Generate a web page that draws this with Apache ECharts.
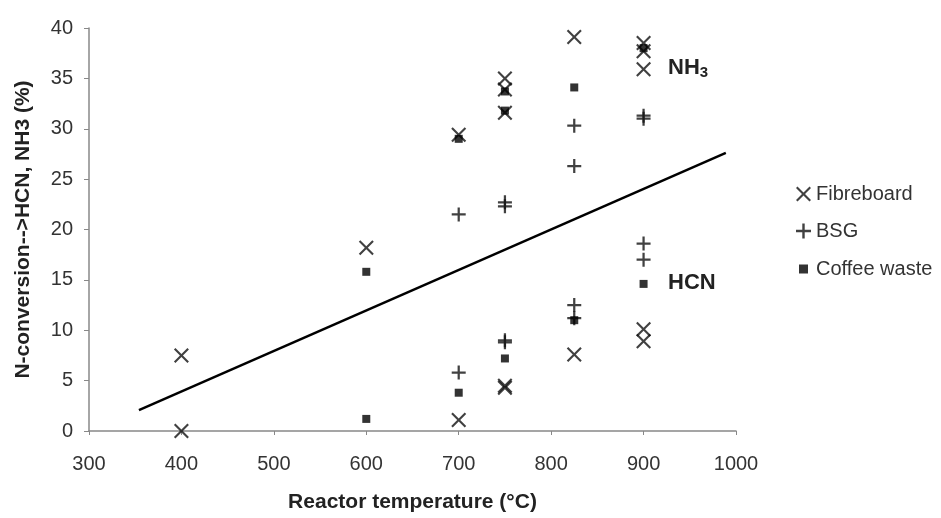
<!DOCTYPE html>
<html>
<head>
<meta charset="utf-8">
<script src="https://cdn.jsdelivr.net/npm/echarts@6/dist/echarts.min.js"></script>
<style>html,body{margin:0;padding:0;background:#fff;}#c{width:941px;height:518px;}</style>
</head>
<body>
<div id="c"></div>
<script>
// ---- data ----
const xTicks = [300, 400, 500, 600, 700, 800, 900, 1000];
const yTicks = [0, 5, 10, 15, 20, 25, 30, 35, 40];

const fibTemp = [400, 400, 600, 700, 700, 750, 750, 750, 750, 750, 825, 825, 900, 900, 900, 900, 900];
const fibVal  = [7.5, 0.0, 18.2, 29.4, 1.1, 35.0, 33.9, 31.6, 4.3, 4.5, 39.1, 7.6, 38.5, 37.7, 35.9, 10.1, 8.9];

const bsgTemp = [700, 700, 750, 750, 750, 750, 825, 825, 825, 825, 900, 900, 900, 900];
const bsgVal  = [21.5, 5.8, 22.7, 22.3, 9.0, 8.8, 30.3, 26.3, 12.5, 11.2, 31.3, 31.0, 18.6, 17.0];

const cofTemp = [600, 600, 700, 700, 750, 750, 750, 825, 825, 900, 900];
const cofVal  = [15.8, 1.2, 29.0, 3.8, 33.7, 31.8, 7.2, 34.1, 11.0, 38.0, 14.6];

const trendTemp = [354, 989];
const trendVal  = [2.07, 27.6];

const seriesNames = ['Fibreboard', 'BSG', 'Coffee waste'];
// ---------------

const zip = (a, b) => a.map((v, i) => [v, b[i]]);
const FONT = "'Liberation Sans', Arial, sans-serif";
const X_PATH = 'path://M0,1 L1,0 L5,4 L9,0 L10,1 L6,5 L10,9 L9,10 L5,6 L1,10 L0,9 L4,5 Z';
const PLUS_PATH = 'path://M4.2,0 H5.8 V4.2 H10 V5.8 H5.8 V10 H4.2 V5.8 H0 V4.2 H4.2 Z';

const chart = echarts.init(document.getElementById('c'), null, {renderer: 'canvas'});
const legendBase = {
  orient: 'vertical', left: 791, itemWidth: 15, itemHeight: 15, itemGap: 5,
  textStyle: {fontFamily: FONT, fontSize: 20, color: '#333'},
  selectedMode: false
};
chart.setOption({
  animation: false,
  backgroundColor: '#fff',
  grid: {left: 89, right: 205, top: 28, bottom: 84},
  legend: [
    Object.assign({}, legendBase, {top: 179, data: [seriesNames[0]]}),
    Object.assign({}, legendBase, {top: 216, data: [seriesNames[1]]}),
    Object.assign({}, legendBase, {top: 254, left: 794, itemWidth: 9, itemHeight: 9, data: [{name: seriesNames[2], icon: 'rect'}],
      textStyle: {fontFamily: FONT, fontSize: 20, color: '#333', padding: [0, 0, 0, 3]}})
  ],
  xAxis: {
    type: 'value', min: xTicks[0], max: xTicks[xTicks.length - 1], interval: 100,
    name: 'Reactor temperature (°C)', nameLocation: 'middle', nameGap: 61,
    nameTextStyle: {fontFamily: FONT, fontSize: 21, fontWeight: 'bold', color: '#222'},
    axisLine: {onZero: false, lineStyle: {color: '#888', width: 1.5}},
    axisTick: {show: true, length: 4, lineStyle: {color: '#888'}},
    axisLabel: {fontFamily: FONT, fontSize: 20, color: '#333', margin: 23, formatter: v => String(v)},
    splitLine: {show: false}
  },
  yAxis: {
    type: 'value', min: yTicks[0], max: yTicks[yTicks.length - 1], interval: 5,
    name: 'N-conversion-->HCN, NH3 (%)', nameLocation: 'middle', nameGap: 55,
    nameTextStyle: {fontFamily: FONT, fontSize: 21, fontWeight: 'bold', color: '#222'},
    axisLine: {show: true, lineStyle: {color: '#888', width: 1.5}},
    axisTick: {show: true, length: 5, lineStyle: {color: '#888'}},
    axisLabel: {fontFamily: FONT, fontSize: 20, color: '#333', margin: 16, formatter: v => String(v)},
    splitLine: {show: false}
  },
  graphic: [
    {type: 'text', left: 668, top: 57, style: {
      text: '{b|NH}{s|3}', fontFamily: FONT,
      rich: {b: {fontSize: 22, fontWeight: 'bold', fill: '#222', fontFamily: FONT},
             s: {fontSize: 15, fontWeight: 'bold', fill: '#222', fontFamily: FONT, padding: [10, 0, 0, 0]}}
    }},
    {type: 'text', left: 668, top: 272, style: {
      text: 'HCN', fontSize: 22, fontWeight: 'bold', fill: '#222', fontFamily: FONT
    }}
  ],
  series: [
    {name: 'trend', type: 'line', data: zip(trendTemp, trendVal), showSymbol: false, symbol: 'none',
     lineStyle: {color: '#000', width: 2.5}, silent: true, z: 1},
    {name: seriesNames[0], type: 'scatter', data: zip(fibTemp, fibVal), symbol: X_PATH, symbolSize: 15,
     itemStyle: {color: '#111'}, z: 3},
    {name: seriesNames[1], type: 'scatter', data: zip(bsgTemp, bsgVal), symbol: PLUS_PATH, symbolSize: 14,
     itemStyle: {color: '#111'}, z: 3},
    {name: seriesNames[2], type: 'scatter', data: zip(cofTemp, cofVal), symbol: 'rect', symbolSize: 8,
     itemStyle: {color: '#000'}, z: 3}
  ]
});
</script>
</body>
</html>
